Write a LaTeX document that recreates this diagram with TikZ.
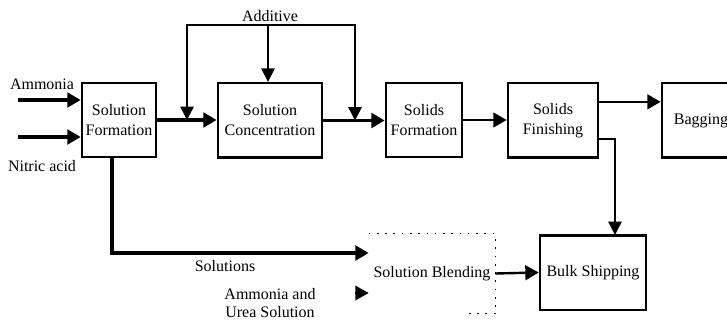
\documentclass[tikz,border=0pt]{standalone}
\usepackage{fontspec}
\setmainfont{Liberation Serif}
\usetikzlibrary{arrows.meta}

\begin{document}
\begin{tikzpicture}[x=0.75pt,y=0.75pt,yscale=-1,xscale=1,
  unit/.style={draw, line width=2pt, align=center, inner sep=1pt, font=\fontsize{12}{15}\selectfont},
  lbl/.style={align=center, inner sep=0.75pt, font=\fontsize{12}{13.5}\selectfont},
  flow/.style={line width=2.4pt, -{Triangle[length=10pt,width=11pt]}},
  feed/.style={line width=1.1pt, -{Triangle[length=10pt,width=10pt]}}]
\useasboundingbox (0,0) rectangle (727,320);

%Process units
\node [unit, minimum width=55.5pt, minimum height=55.5pt] (form) at (119,120) {Solution\\Formation};
\node [unit, minimum width=78pt, minimum height=56pt] (conc) at (270,120.5) {Solution\\Concentration};
\node [unit, minimum width=57pt, minimum height=55.5pt] (solform) at (424,120) {Solids\\Formation};
\node [unit, minimum width=67.5pt, minimum height=56pt] (finish) at (553,120.5) {Solids\\Finishing};
\node [unit, minimum width=58.5pt, minimum height=56pt] (bag) at (701,120.5) {Bagging};
\node [unit, minimum width=79.5pt, minimum height=56pt] (bulk) at (593,272.5) {Bulk Shipping};
\node [unit, draw=none, minimum width=93pt, minimum height=58pt] (blend) at (432,273.5) {Solution Blending};
\draw [line width=1pt, dash pattern=on 1.2pt off 5pt] (blend.north west) -- (blend.north east) -- (blend.south east) -- ([xshift=-20pt]blend.south east);

% Text Node
\node [lbl] (ammonia) at (42,84) {Ammonia};
\node [lbl] (nitric) at (42,166) {Nitric acid};
\node [lbl] (additive) at (270,16) {Additive};
\node [lbl] (solutions) at (225,266) {Solutions};
\node [lbl, align=center] (urea) at (270,303) {Ammonia and\\Urea Solution};

%Free ends of connectors
\coordinate (am) at (18,100);
\coordinate (na) at (18,137);
\coordinate (fbl) at (187,25);
\coordinate (fbr) at (355,25);
\coordinate (add) at (268,25);
\coordinate (drop) at (615,235);
\coordinate (sol) at (112,253);
\coordinate (ur) at (355,293);
\coordinate (tobag) at ([yshift=-14pt]finish.east);
\coordinate (tobulk) at ([yshift=14pt]finish.east);

%Connectors
\draw [flow] (am) -- (am -| form.west);
\draw [flow] (na) -- (na -| form.west);
\draw [flow] (form.east) -- (form.east -| conc.west);
\draw [feed, {Triangle[length=10pt,width=10pt]}-{Triangle[length=10pt,width=10pt]}] (fbl |- form.east) -- (fbl) -- (fbr) -- (fbr |- conc.east);
\draw [feed] (add) -- (add |- conc.north);
\draw [flow] (conc.east) -- (conc.east -| solform.west);
\draw [flow, line width=1.6pt] (solform.east) -- (solform.east -| finish.west);
\draw [flow, line width=1.8pt] (tobag) -- (tobag -| bag.west);
\draw [feed] (tobulk) -| (drop);
\draw [flow] (sol |- form.south) -- (sol) -- (sol -| blend.west);
\draw [flow, line width=1pt] (ur) -- (ur -| blend.west);
\draw [flow, line width=1.8pt] (blend.east) -- (bulk.west);

\end{tikzpicture}
\end{document}
